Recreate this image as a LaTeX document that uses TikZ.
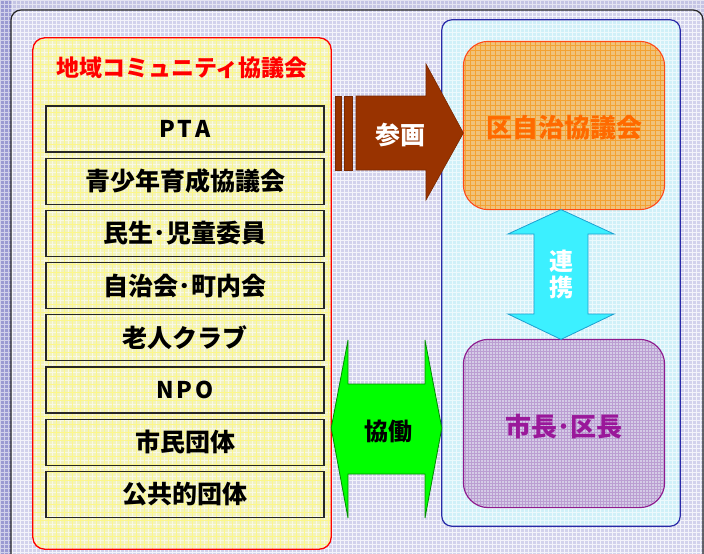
\documentclass[tikz,border=0pt]{standalone}
\usepackage{fontspec}
\newfontfamily\jp{Noto Sans CJK JP}
\definecolor{bgdark}{HTML}{9A9AD2}
\definecolor{bgtop}{HTML}{C4C4E4}
\definecolor{panel}{HTML}{D2D2EC}
\definecolor{yel}{HTML}{F2F2BE}
\definecolor{cyanpanel}{HTML}{D0F0F8}
\definecolor{bluebd}{HTML}{2A2AA8}
\definecolor{orfill}{HTML}{F0C27A}
\definecolor{orgrid}{HTML}{F49A20}
\definecolor{orbd}{HTML}{FF4A14}
\definecolor{ortext}{HTML}{FF6A00}
\definecolor{pufill}{HTML}{D4CCE6}
\definecolor{pugrid}{HTML}{9A60B8}
\definecolor{pubd}{HTML}{8E1A8E}
\definecolor{putext}{HTML}{9A189A}
\definecolor{brown}{HTML}{993300}
\definecolor{cyarrow}{HTML}{3CF0FF}
\definecolor{cyarrowbd}{HTML}{1CA0D0}
\definecolor{grarrowbd}{HTML}{008A00}
\tikzset{
  item/.style={draw=black!85, line width=1.2pt, minimum width=278pt, minimum height=46pt, inner sep=0pt, font=\jp\bfseries\fontsize{25}{27}\selectfont},
  latin/.style={font=\jp\bfseries\fontsize{23}{25}\selectfont},
  bigbox/.style={rounded corners=25pt, minimum width=200pt, minimum height=167pt, line width=1.2pt, inner sep=0pt},
  bigtext/.style={font=\jp\bfseries\fontsize{26}{28}\selectfont},
  wgrid/.style={white, line width=0.5pt, opacity=0.55},
}
\begin{document}
\begin{tikzpicture}[x=1pt,y=1pt]
\useasboundingbox (0,-554) rectangle (704,0);
% background
\fill[bgtop] (0,-554) rectangle (704,0);
\fill[bgdark] (0,-554) rectangle (11,0);
\draw[wgrid] (0,-554) grid[step=4] (704,0);
% outer panel
\fill[panel, rounded corners=10pt] (11,-570) -- (11,-10) -- (703,-10) -- (703,-570) -- cycle;
\begin{scope}
\clip[rounded corners=10pt] (11,-570) -- (11,-10) -- (703,-10) -- (703,-570) -- cycle;
\draw[white, line width=0.5pt, opacity=0.75] (0,-554) grid[step=4] (704,0);
\end{scope}
\draw[black!85, line width=1.2pt, rounded corners=10pt] (11,-570) -- (11,-10) -- (703,-10) -- (703,-570);

% yellow community box
\node[fill=yel, rounded corners=12pt, minimum width=298pt, minimum height=511pt, inner sep=0pt] (comm) at (182,-293.5) {};
\begin{scope}
\clip[rounded corners=12pt] (33,-549) rectangle (331,-38);
\draw[white, line width=0.5pt, opacity=0.6] (30,-554) grid[step=4] (334,-36);
\draw[yellow!70!white, line width=0.4pt, opacity=0.6] (32,-552) grid[step=8] (334,-36);
\end{scope}
\draw[red, line width=1.3pt, rounded corners=12pt] (comm.south west) rectangle (comm.north east);
\node[text=red, font=\jp\bfseries\fontsize{23}{25}\selectfont] (title) at (182,-68) {地域コミュニティ協議会};

\node[item, latin] (i1) at (185,-129)   {P\kern2pt T\kern3pt A};
\node[item] (i2) at (185,-181.2) {青少年育成協議会};
\node[item] (i3) at (185,-233.4) {民生･児童委員};
\node[item] (i4) at (185,-285.6) {自治会･町内会};
\node[item] (i5) at (185,-337.8) {老人クラブ};
\node[item, latin] (i6) at (185,-390)   {N\kern3pt P\kern3pt O};
\node[item] (i7) at (185,-442.2) {市民団体};
\node[item] (i8) at (185,-494.4) {公共的団体};

% blue ward panel
\node[fill=cyanpanel, rounded corners=10pt, minimum width=238pt, minimum height=506pt, inner sep=0pt] (ward) at (561,-273) {};
\begin{scope}
\clip[rounded corners=10pt] (442,-526) rectangle (680,-20);
\draw[white, line width=0.5pt, opacity=0.6] (440,-528) grid[step=4] (684,-16);
\end{scope}
\draw[bluebd, line width=1.2pt, rounded corners=10pt] (ward.south west) rectangle (ward.north east);

% orange box
\node[bigbox, fill=orfill] (kyo) at (564,-125.5) {};
\begin{scope}
\clip[rounded corners=25pt] (464,-209) rectangle (664,-42);
\draw[orgrid, line width=0.5pt, opacity=0.8] (460,-212) grid[step=5] (668,-40);
\end{scope}
\draw[orbd, line width=1.2pt, rounded corners=25pt] (kyo.south west) rectangle (kyo.north east);
\node[bigtext, text=ortext] (kyot) at (564,-128) {区自治協議会};

% purple box
\node[bigbox, fill=pufill] (mayor) at (564,-423.5) {};
\begin{scope}
\clip[rounded corners=25pt] (464,-507) rectangle (664,-340);
\draw[pugrid, line width=0.6pt, opacity=0.42] (460,-510) grid[step=3] (668,-338);
\end{scope}
\draw[pubd, line width=1.2pt, rounded corners=25pt] (mayor.south west) rectangle (mayor.north east);
\node[bigtext, text=putext] (mayort) at (564,-427) {市長･区長};

% brown arrow (participation)
\fill[brown, draw=brown!80!black, line width=0.6pt] (335,-96) rectangle (341,-170);
\fill[brown, draw=brown!80!black, line width=0.6pt] (344.5,-96) rectangle (352,-170);
\filldraw[fill=brown, draw=brown!80!black, line width=0.6pt]
  (356,-96) -- (426,-96) -- (426,-64) -- (kyo.west |- 0,-133) -- (426,-200) -- (426,-170) -- (356,-170) -- cycle;
\node[text=white, font=\jp\bfseries\fontsize{25}{27}\selectfont] (sankaku) at (400,-135) {参画};

% cyan double arrow (cooperation)
\coordinate (ctop) at (kyo.south -| 561,0);
\coordinate (cbot) at (mayor.north -| 561,0);
\filldraw[fill=cyarrow, draw=cyarrowbd, line width=0.8pt]
  (ctop) -- (614,-234) -- (588,-234) -- (588,-314) -- (614,-314) -- (cbot)
  -- (508,-314) -- (534,-314) -- (534,-234) -- (508,-234) -- cycle;
\node[text=white, font=\jp\bfseries\fontsize{24}{26}\selectfont] (ren) at (561,-261) {連};
\node[text=white, font=\jp\bfseries\fontsize{24}{26}\selectfont] (kei) at (561,-287) {携};

% green double arrow (collaboration)
\coordinate (gl) at (comm.east |- 0,-428);
\coordinate (gr) at (ward.west |- 0,-428);
\filldraw[fill=green, draw=grarrowbd, line width=0.8pt]
  (gl) -- (348,-340) -- (348,-384) -- (425,-384) -- (425,-340) -- (gr)
  -- (425,-518) -- (425,-474) -- (348,-474) -- (348,-518) -- cycle;
\node[text=black, font=\jp\bfseries\fontsize{24}{26}\selectfont] (kyodo) at (388,-431) {協働};
\end{tikzpicture}
\end{document}
